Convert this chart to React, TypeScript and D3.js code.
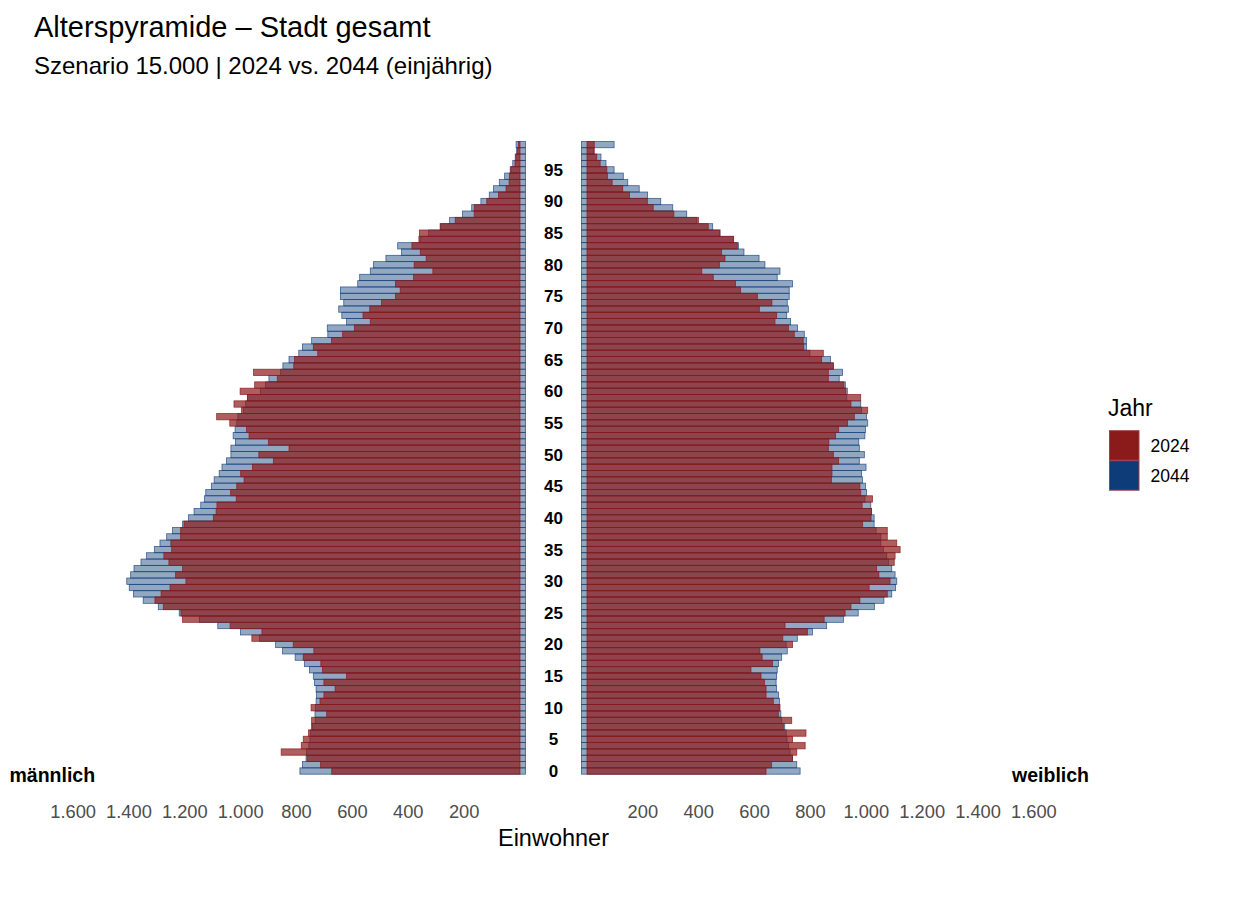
import * as d3 from 'd3';
import { useEffect } from 'react';

// ages 0..99, one value per single year of age
const ages = d3.range(0, 100);

// male, 2024
const male2024 = [
  674, 714, 762, 855, 783, 776, 757, 746, 746, 692, 748, 716, 702, 662, 702, 621, 707, 713, 776, 738,
  812, 960, 924, 1038, 1208, 1214, 1277, 1307, 1285, 1253, 1196, 1233, 1208, 1257, 1275, 1247, 1250, 1215, 1215, 1203,
  1098, 1088, 1085, 1016, 1036, 1014, 988, 1000, 958, 883, 935, 827, 901, 970, 979, 1039, 1086, 997, 1024, 976,
  1002, 950, 869, 954, 810, 807, 724, 740, 675, 635, 593, 536, 562, 538, 496, 446, 429, 446, 381, 312,
  379, 336, 357, 387, 362, 360, 286, 232, 164, 164, 119, 77, 50, 39, 38, 33, 18, 15, 10, 6,
];

// male, 2044
const male2044 = [
  788, 779, 766, 764, 756, 752, 751, 744, 733, 734, 732, 730, 729, 730, 736, 740, 754, 772, 805, 850,
  875, 933, 1001, 1082, 1148, 1220, 1295, 1349, 1384, 1399, 1408, 1394, 1382, 1357, 1337, 1309, 1289, 1265, 1244, 1208,
  1187, 1167, 1143, 1130, 1125, 1105, 1095, 1077, 1067, 1051, 1035, 1035, 1019, 1027, 1020, 1014, 1010, 990, 982, 976,
  929, 911, 899, 857, 849, 827, 792, 779, 746, 688, 690, 621, 638, 649, 631, 643, 643, 581, 574, 536,
  525, 480, 424, 438, 358, 327, 284, 252, 206, 173, 140, 110, 95, 74, 55, 35, 26, 17, 12, 14,
];

// female, 2024
const female2024 = [
  641, 661, 736, 751, 781, 736, 784, 703, 733, 685, 691, 667, 641, 641, 635, 623, 587, 664, 627, 619,
  736, 701, 789, 709, 849, 924, 945, 977, 1075, 1010, 1085, 1045, 1037, 1100, 1103, 1121, 1109, 1075, 1075, 987,
  1017, 1019, 985, 1022, 980, 977, 875, 877, 877, 901, 882, 864, 866, 890, 901, 933, 957, 1005, 945, 980,
  927, 920, 864, 864, 882, 840, 846, 776, 774, 742, 721, 673, 679, 617, 662, 610, 550, 532, 452, 411,
  474, 494, 482, 538, 524, 476, 434, 399, 311, 237, 216, 152, 128, 90, 73, 71, 47, 35, 26, 26,
];

// female, 2044
const female2044 = [
  763, 751, 736, 727, 722, 716, 713, 708, 697, 694, 688, 689, 686, 679, 677, 679, 681, 686, 697, 717,
  713, 753, 807, 858, 918, 971, 1029, 1063, 1091, 1105, 1109, 1103, 1091, 1079, 1073, 1061, 1052, 1052, 1035, 1028,
  1028, 1019, 1016, 995, 1001, 997, 986, 983, 999, 975, 993, 975, 973, 995, 997, 1005, 1001, 983, 980, 930,
  932, 925, 903, 915, 882, 872, 798, 786, 786, 778, 754, 729, 715, 721, 717, 724, 724, 736, 681, 691,
  637, 616, 562, 542, 525, 476, 450, 393, 357, 307, 264, 217, 187, 146, 130, 97, 68, 50, 24, 97,
];

const years = ['2024', '2044'];
const xTicks = [200, 400, 600, 800, 1000, 1200, 1400, 1600];
const ageTicks = d3.range(0, 100, 5);

const RED = '#8B1A1A';
const BLUE = '#0D3C78';
const FONT = '"Liberation Sans", Arial, sans-serif';

const de = d3.formatLocale({ decimal: ',', thousands: '.', grouping: [3], currency: ['', ' €'] });
const fmt = de.format(',d');

export default function App() {
  useEffect(() => {
    document.body.style.margin = '0';
  }, []);

  const width = 1240;
  const height = 909;

  // the 2044 bars start a little inside the centre gap
  const inset = 20;

  const xM = d3.scaleLinear().domain([0, 1600]).range([520, 73.1]);
  const xF = d3.scaleLinear().domain([0, 1600]).range([587, 1033.9]);
  const y = d3
    .scaleBand<number>()
    .domain(ages.slice().reverse())
    .range([141.4, 774.2])
    .paddingInner(0);

  const bh = y.bandwidth();
  const color = d3.scaleOrdinal<string, string>().domain(years).range([RED, BLUE]);

  const maleBar = (v: number, yr: string) => {
    const x0 = yr === '2044' ? xM(-inset) : xM(0);
    const x1 = xM(v);
    return { x: Math.min(x0, x1), w: Math.abs(x0 - x1) };
  };
  const femaleBar = (v: number, yr: string) => {
    const x0 = yr === '2044' ? xF(-inset) : xF(0);
    const x1 = xF(v);
    return { x: Math.min(x0, x1), w: Math.abs(x1 - x0) };
  };

  const style2044 = { fill: BLUE, fillOpacity: 0.45, stroke: BLUE, strokeOpacity: 0.75, strokeWidth: 0.8 };
  const style2024 = { fill: RED, fillOpacity: 0.7, stroke: RED, strokeOpacity: 0.85, strokeWidth: 0.8 };

  return (
    <svg width={width} height={height} style={{ display: 'block', fontFamily: FONT }}>
      <rect width={width} height={height} fill="#fff" />

      {/* titles */}
      <text x={34} y={37} fontSize={29} fill="#000">
        Alterspyramide – Stadt gesamt
      </text>
      <text x={34} y={74} fontSize={24} fill="#000">
        Szenario 15.000 | 2024 vs. 2044 (einjährig)
      </text>

      {/* 2044 underneath */}
      <g>
        {ages.map((a) => {
          const b = maleBar(male2044[a], '2044');
          return <rect key={'m44' + a} x={b.x} y={y(a)} width={b.w} height={bh} {...style2044} />;
        })}
        {ages.map((a) => {
          const b = femaleBar(female2044[a], '2044');
          return <rect key={'f44' + a} x={b.x} y={y(a)} width={b.w} height={bh} {...style2044} />;
        })}
      </g>
      {/* 2024 on top, semi transparent */}
      <g>
        {ages.map((a) => {
          const b = maleBar(male2024[a], '2024');
          return <rect key={'m24' + a} x={b.x} y={y(a)} width={b.w} height={bh} {...style2024} />;
        })}
        {ages.map((a) => {
          const b = femaleBar(female2024[a], '2024');
          return <rect key={'f24' + a} x={b.x} y={y(a)} width={b.w} height={bh} {...style2024} />;
        })}
      </g>

      {/* age labels in the middle */}
      <g textAnchor="middle" fontWeight="bold" fontSize={17} fill="#000">
        {ageTicks.map((a) => (
          <text key={a} x={553.5} y={(y(a) ?? 0) + bh / 2} dy="0.35em">
            {a}
          </text>
        ))}
      </g>

      {/* sex labels */}
      <text x={9.5} y={782} fontSize={19.5} fontWeight="bold" fill="#000">
        männlich
      </text>
      <text x={1089} y={782} fontSize={19.5} fontWeight="bold" fill="#000" textAnchor="end">
        weiblich
      </text>

      {/* x tick labels */}
      <g fontSize={18.3} fill="#4D4D4D" textAnchor="middle">
        {xTicks.map((t) => (
          <text key={'mt' + t} x={xM(t)} y={818}>
            {fmt(t)}
          </text>
        ))}
        {xTicks.map((t) => (
          <text key={'ft' + t} x={xF(t)} y={818}>
            {fmt(t)}
          </text>
        ))}
      </g>
      <text x={553.5} y={846} fontSize={23.5} textAnchor="middle" fill="#000">
        Einwohner
      </text>

      {/* legend */}
      <g>
        <text x={1108} y={416} fontSize={23} fill="#000">
          Jahr
        </text>
        {years.map((yr, i) => (
          <g key={yr} transform={`translate(1109.5,${430.7 + i * 30})`}>
            <rect width={29.5} height={29.5} fill={color(yr)} stroke="#A0414D" strokeWidth={1} />
            <text x={41} y={15} dy="0.35em" fontSize={17.5} fill="#000">
              {yr}
            </text>
          </g>
        ))}
      </g>
    </svg>
  );
}
